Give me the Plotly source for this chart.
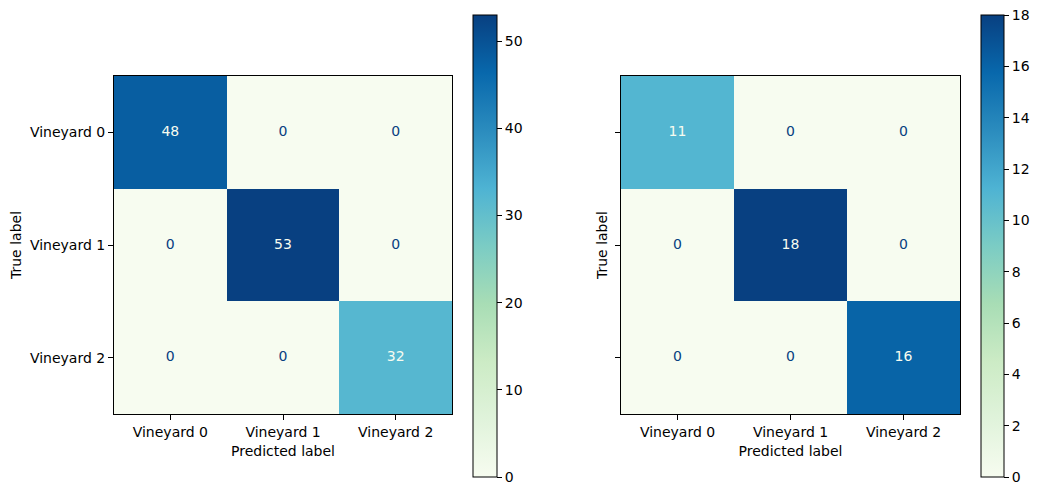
import plotly.graph_objects as go

labels = ["Vineyard 0", "Vineyard 1", "Vineyard 2"]
cm_left = [[48, 0, 0], [0, 53, 0], [0, 0, 32]]
cm_right = [[11, 0, 0], [0, 18, 0], [0, 0, 16]]
cbar_ticks_left = [0, 10, 20, 30, 40, 50]
cbar_ticks_right = [0, 2, 4, 6, 8, 10, 12, 14, 16, 18]

gnbu = [[0.0, "#f7fcf0"], [0.125, "#e0f3db"], [0.25, "#ccebc5"], [0.375, "#a8ddb5"],
        [0.5, "#7bccc4"], [0.625, "#4eb3d3"], [0.75, "#2b8cbe"], [0.875, "#0868ac"],
        [1.0, "#084081"]]
LIGHT = "#f7fcf0"
DARK = "#084081"

W, H = 1041, 495
OFF = 8  # page body margin in the browser
FONT = "DejaVu Sans"
FS = 14
TXT = "#000000"


def px(x):
    return (x - OFF) / W


def py(y):
    return (H - (y - OFF)) / H


fig = go.Figure()


def add_matrix(cm, xa, ya, cax):
    fig.add_trace(go.Heatmap(z=cm, x=labels, y=labels, coloraxis=cax,
                             xaxis=xa, yaxis=ya, hoverinfo="skip"))
    flat = [v for row in cm for v in row]
    lo, hi = min(flat), max(flat)
    thr = (lo + hi) / 2.0
    xs, ys, ts, cs = [], [], [], []
    for i, row in enumerate(cm):
        for j, v in enumerate(row):
            xs.append(labels[j]); ys.append(labels[i]); ts.append(str(v))
            cs.append(LIGHT if v > thr else DARK)
    fig.add_trace(go.Scatter(x=xs, y=ys, text=ts, mode="text", xaxis=xa, yaxis=ya,
                             textfont=dict(color=cs, size=FS, family=FONT),
                             showlegend=False, hoverinfo="skip"))
    return hi


hi1 = add_matrix(cm_left, "x", "y", "coloraxis")
hi2 = add_matrix(cm_right, "x2", "y2", "coloraxis2")

ydom = [py(414), py(76)]
axcommon = dict(showline=True, mirror=True, linecolor="black", linewidth=1,
                ticks="outside", ticklen=5, tickcolor="black", showgrid=False,
                zeroline=False, tickfont=dict(size=FS, family=FONT, color=TXT))


def cbar(x0, thick, tickvals):
    return dict(x=px(x0), xanchor="left", y=py(477), yanchor="bottom",
                thickness=thick, thicknessmode="pixels", len=462, lenmode="pixels",
                xpad=0, ypad=0, outlinecolor="black", outlinewidth=1,
                ticks="outside", ticklen=5, tickcolor="black",
                tickmode="array", tickvals=tickvals, ticktext=[str(v) for v in tickvals],
                ticklabeloverflow="allow",
                tickfont=dict(size=FS, family=FONT, color=TXT))


fig.update_layout(
    width=W, height=H, margin=dict(l=0, r=0, t=0, b=0),
    plot_bgcolor="white", paper_bgcolor="white",
    font=dict(family=FONT, size=FS, color=TXT),
    xaxis=dict(domain=[px(114), px(452)], anchor="y", range=[-0.5, 2.5],
               title=dict(text="Predicted label", font=dict(size=FS), standoff=7), **axcommon),
    yaxis=dict(domain=ydom, anchor="x", range=[2.5, -0.5],
               title=dict(text="True label", font=dict(size=FS), standoff=6), **axcommon),
    xaxis2=dict(domain=[px(621), px(960)], anchor="y2", range=[-0.5, 2.5],
                title=dict(text="Predicted label", font=dict(size=FS), standoff=7), **axcommon),
    yaxis2=dict(domain=ydom, anchor="x2", range=[2.5, -0.5], showticklabels=False,
                title=dict(text="True label", font=dict(size=FS), standoff=4), **axcommon),
    coloraxis=dict(colorscale=gnbu, cmin=0, cmax=hi1, colorbar=cbar(473, 24, cbar_ticks_left)),
    coloraxis2=dict(colorscale=gnbu, cmin=0, cmax=hi2, colorbar=cbar(981, 23, cbar_ticks_right)),
)

fig.write_html("out.html")
